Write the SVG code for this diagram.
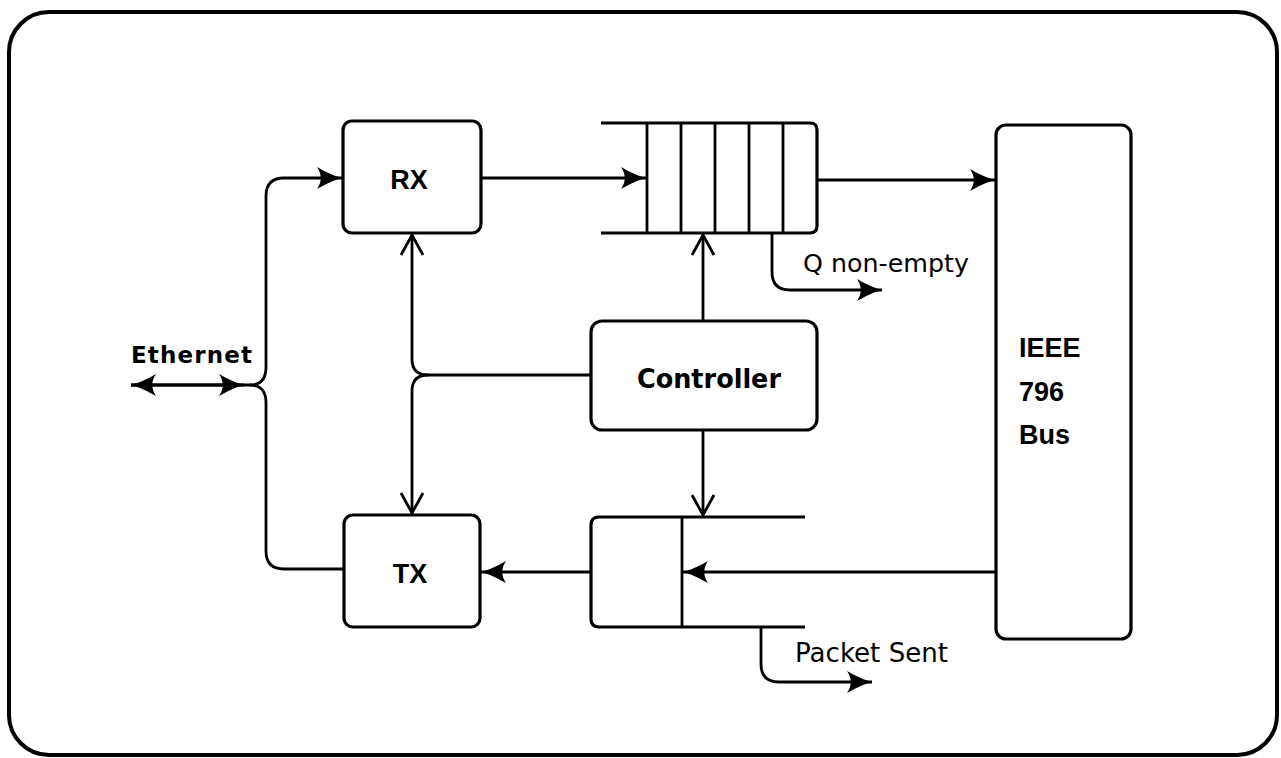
<svg xmlns="http://www.w3.org/2000/svg" width="1281" height="758" viewBox="0 0 1281 758">
<style>
.box{fill:none;stroke:#000;stroke-width:3.2;stroke-linejoin:round}
.ln{fill:none;stroke:#000;stroke-width:2.8;stroke-linejoin:round}
.lb{font-family:"Liberation Sans",Arial,sans-serif;font-weight:bold;fill:#000}
.db{font-family:"DejaVu Sans",Verdana,sans-serif;font-weight:bold;fill:#000}
.lr{font-family:"DejaVu Sans",Verdana,sans-serif;fill:#000}
</style>
<defs>
<marker id="barb" viewBox="-27 -12 28 24" refX="0" refY="0" markerWidth="28" markerHeight="24" markerUnits="userSpaceOnUse" orient="auto">
<path d="M0,0 C-8,-2 -18,-7 -25,-11 C-20,-4 -20,4 -25,11 C-18,7 -8,2 0,0 Z" fill="#000"/>
</marker>
<marker id="vee" viewBox="-22 -14 24 28" refX="0" refY="0" markerWidth="24" markerHeight="28" markerUnits="userSpaceOnUse" orient="auto">
<path d="M-20,-11 L0,0 L-20,11" fill="none" stroke="#000" stroke-width="2.8" stroke-linejoin="miter"/>
</marker>
</defs>
<rect id="frame" x="9" y="12" width="1268" height="743" rx="40" fill="#fff" stroke="#000" stroke-width="4"/>
<g id="rx"><rect class="box" x="343" y="121" width="138" height="112" rx="9"/><text class="lb" x="409" y="189" font-size="27" text-anchor="middle">RX</text></g>
<g id="tx"><rect class="box" x="344" y="515" width="136" height="112" rx="9"/><text class="lb" x="410" y="583" font-size="27" text-anchor="middle">TX</text></g>
<g id="controller"><rect class="box" x="591" y="321" width="226" height="109" rx="11"/><text class="db" x="637" y="388" font-size="26" textLength="144" lengthAdjust="spacingAndGlyphs">Controller</text></g>
<g id="rxqueue"><path class="box" d="M601,123 L810,123 Q817,123 817,130 L817,226 Q817,233 810,233 L601,233"/><path class="ln" d="M647,123 V233 M681,123 V233 M715,123 V233 M749,123 V233 M783,123 V233"/></g>
<g id="txbuffer"><path class="box" d="M805,517 L599,517 Q591,517 591,525 L591,619 Q591,627 599,627 L805,627"/><path class="ln" d="M682,517 V627"/></g>
<g id="bus"><rect class="box" x="996" y="125" width="135" height="514" rx="10"/><text class="lb" x="1019" y="357" font-size="27">IEEE</text><text class="lb" x="1019" y="401" font-size="27">796</text><text class="lb" x="1019" y="444" font-size="27">Bus</text></g>
<g id="labels">
<text class="db" x="131" y="363" font-size="23" textLength="121" lengthAdjust="spacing">Ethernet</text>
<text class="lr" x="803" y="272" font-size="25" textLength="166" lengthAdjust="spacingAndGlyphs">Q non-empty</text>
<text class="lr" x="795" y="662" font-size="26" textLength="153" lengthAdjust="spacingAndGlyphs">Packet Sent</text>
</g>
<g id="connectors">
<path class="ln" d="M250,385 L131,385" marker-end="url(#barb)"/>
<path class="ln" d="M131,385 L244,385" marker-end="url(#barb)"/>
<path class="ln" d="M250,385 Q266,385 266,367 L266,196 Q266,178 284,178 L342,178" marker-end="url(#barb)"/>
<path class="ln" d="M250,385 Q266,385 266,403 L266,551 Q266,569 284,569 L344,569"/>
<path class="ln" d="M481,178 L646,178" marker-end="url(#barb)"/>
<path class="ln" d="M817,180 L995,180" marker-end="url(#barb)"/>
<path class="ln" d="M591,375 L428,375 Q412,375 412,359 L412,235" marker-end="url(#vee)"/>
<path class="ln" d="M428,375 Q412,375 412,391 L412,513" marker-end="url(#vee)"/>
<path class="ln" d="M703,321 L703,235" marker-end="url(#vee)"/>
<path class="ln" d="M703,430 L703,515" marker-end="url(#vee)"/>
<path class="ln" d="M772,233 L772,272 Q772,290 790,290 L882,290" marker-end="url(#barb)"/>
<path class="ln" d="M761,627 L761,664 Q761,682 779,682 L872,682" marker-end="url(#barb)"/>
<path class="ln" d="M995,572 L683,572" marker-end="url(#barb)"/>
<path class="ln" d="M591,572 L481,572" marker-end="url(#barb)"/>
</g>
</svg>
